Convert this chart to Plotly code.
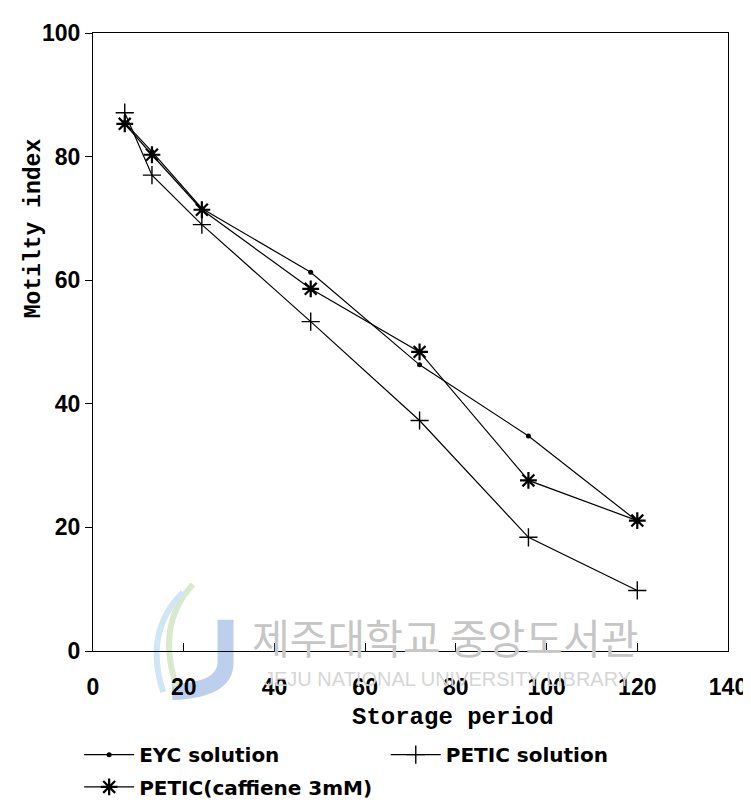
import plotly.graph_objects as go

# ---- data ----
storage_hours = [7, 13, 24, 48, 72, 96, 120]
eyc_solution = [85.5, 80.8, 71.6, 61.3, 46.3, 34.8, 21.0]
petic_solution = [87.1, 77.0, 69.0, 53.3, 37.3, 18.4, 9.8]
petic_caffiene = [85.3, 80.3, 71.4, 58.6, 48.4, 27.6, 21.1]

x_ticks = [0, 20, 40, 60, 80, 100, 120, 140]
y_ticks = [0, 20, 40, 60, 80, 100]

# ---- layout geometry (pixels) ----
W, H = 751, 810
L, R, T, B = 85, 727, 20, 652


def px(xp):
    return (xp - L) / (R - L)


def py(yp):
    return (B - yp) / (B - T)


fig = go.Figure()

fig.add_trace(go.Scatter(
    x=storage_hours, y=eyc_solution, name="EYC solution",
    mode="lines+markers",
    line=dict(color="black", width=1.2),
    marker=dict(symbol="circle", size=5, color="black"),
    legend="legend",
))
fig.add_trace(go.Scatter(
    x=storage_hours, y=petic_solution, name="PETIC solution",
    mode="lines+markers",
    line=dict(color="black", width=1.2),
    marker=dict(symbol="cross-thin-open", size=13,
                line=dict(color="black", width=1.4)),
    legend="legend2",
))
fig.add_trace(go.Scatter(
    x=storage_hours, y=petic_caffiene, name="PETIC(caffiene 3mM)",
    mode="lines+markers",
    line=dict(color="black", width=1.2),
    marker=dict(symbol="asterisk-open", size=14,
                line=dict(color="black", width=2.2)),
    legend="legend3",
))

tick_font = dict(family="Liberation Sans", size=23, color="black", weight="bold")
title_font = dict(family="Liberation Mono", size=23, color="black", weight="bold")
legend_font = dict(family="DejaVu Sans", size=20, color="black", weight="bold")

annotations = [
    dict(text="Motilty index", x=px(25), y=py(220), xref="paper", yref="paper",
         textangle=-90, showarrow=False, font=title_font,
         xanchor="center", yanchor="middle"),
    dict(text="Storage period", x=px(449), y=py(720), xref="paper", yref="paper",
         showarrow=False, font=dict(title_font, size=24),
         xanchor="center", yanchor="middle"),
    # faint library watermark
    dict(text="제주대학교 중앙도서관", x=px(441), y=py(637), xref="paper", yref="paper",
         showarrow=False, font=dict(family="Noto Sans CJK KR", size=41, color="#c6c6c6"),
         xanchor="center", yanchor="middle"),
    dict(text="JEJU NATIONAL UNIVERSITY LIBRARY", x=px(443), y=py(681), xref="paper", yref="paper",
         showarrow=False, font=dict(family="Liberation Sans", size=20, color="#d6d6d6"),
         xanchor="center", yanchor="middle"),
]


def path_px(points):
    segs = []
    for cmd, pts in points:
        coords = " ".join(f"{px(a):.4f},{py(b):.4f}" for a, b in pts)
        segs.append(f"{cmd} {coords}")
    return " ".join(segs)


shapes = [
    dict(type="path", xref="paper", yref="paper", layer="below",
         path=path_px([("M", [(219, 620)]), ("L", [(219, 664)]), ("Q", [(219, 692), (165, 694)])]),
         line=dict(color="#bccfec", width=16)),
    dict(type="path", xref="paper", yref="paper", layer="below",
         path=path_px([("M", [(186, 584)]), ("Q", [(148, 625), (170, 690)])]),
         line=dict(color="#d9e9cd", width=6)),
    dict(type="path", xref="paper", yref="paper", layer="below",
         path=path_px([("M", [(176, 592)]), ("Q", [(136, 632), (156, 694)])]),
         line=dict(color="#cfe7f5", width=6)),
]

legend_common = dict(font=legend_font, bgcolor="rgba(0,0,0,0)", borderwidth=0,
                     xanchor="left", yanchor="middle", xref="paper", yref="paper",
                     itemwidth=50)

fig.update_layout(
    width=W, height=H,
    margin=dict(l=L, r=W - R, t=T, b=H - B),
    plot_bgcolor="white", paper_bgcolor="white",
    showlegend=True,
    legend=dict(legend_common, x=px(71), y=py(758)),
    legend2=dict(legend_common, x=px(381), y=py(758)),
    legend3=dict(legend_common, x=px(71), y=py(791)),
    xaxis=dict(
        range=[0, 140], tickvals=x_ticks, ticktext=[str(v) for v in x_ticks],
        showgrid=False, zeroline=False,
        showline=True, linecolor="black", linewidth=1.2, mirror=True,
        ticks="inside", ticklen=8, tickcolor="black", tickwidth=1,
        tickfont=tick_font, ticklabelstandoff=15,
    ),
    yaxis=dict(
        range=[0, 100], tickvals=y_ticks, ticktext=[str(v) for v in y_ticks],
        showgrid=False, zeroline=False,
        showline=True, linecolor="black", linewidth=1.2, mirror=True,
        ticks="outside", ticklen=7, tickcolor="black", tickwidth=1,
        tickfont=tick_font,
    ),
    annotations=annotations,
    shapes=shapes,
)

fig.write_html("out.html")
